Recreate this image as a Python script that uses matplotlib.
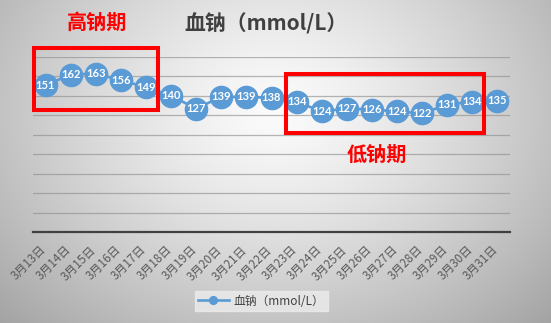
import numpy as np
import matplotlib.pyplot as plt
from matplotlib.patches import Rectangle

plt.rcParams['font.family'] = ['Noto Sans CJK SC', 'DejaVu Sans']

# 血钠 daily values, 3月13日 - 3月31日
days = [f"3月{d}日" for d in range(13, 32)]
sodium = [151, 162, 163, 156, 149, 140, 127, 139, 139, 138,
          134, 124, 127, 126, 124, 122, 131, 134, 135]

blue = '#5B9BD5'

fig = plt.figure(figsize=(5.51, 3.23), dpi=100)

# radial grey background
bg = fig.add_axes([0, 0, 1, 1], zorder=-10)
yy, xx = np.mgrid[0:323, 0:551]
r = np.sqrt(((xx - 275) / 320.0) ** 2 + ((yy - 110) / 250.0) ** 2)
shade = np.clip(0.985 - 0.27 * r ** 1.3, 0, 1)
bg.imshow(np.dstack([shade] * 3), aspect='auto', extent=[0, 1, 0, 1])
bg.axis('off')

ax = fig.add_axes([0.0599, 0.2817, 0.8657, 0.5418])
ax.patch.set_alpha(0)
x = np.arange(len(sodium))
ax.plot(x, sodium, color=blue, lw=1.9, marker='o', ms=16,
        mec=blue, mfc=blue, clip_on=False, zorder=3)
for xi, v in zip(x, sodium):
    ax.text(xi, v, str(v), color='white', fontsize=8, fontweight='bold',
            family=['Lato', 'DejaVu Sans'], ha='center', va='center', zorder=4)

ax.set_xlim(-0.5, len(sodium) - 0.5)
ax.set_ylim(0, 180)
ax.set_yticks(np.arange(20, 181, 20))
ax.yaxis.grid(True, color='#8f8f8f', lw=0.9, alpha=0.65)
ax.tick_params(axis='y', left=False, labelleft=False)
ax.set_xticks(x + 0.12)
ax.set_xticklabels(days, rotation=45, ha='right', va='top', fontsize=8.5,
                   color='#595959')
ax.tick_params(axis='x', length=0, pad=8)
for s in ['top', 'right', 'left']:
    ax.spines[s].set_visible(False)
ax.spines['bottom'].set_color('#404040')
ax.spines['bottom'].set_linewidth(1.6)

# high / low periods
ax.add_patch(Rectangle((-0.48, 125), 4.94, 64, fill=False, ec='red',
                       lw=2.9, clip_on=False, zorder=5))
ax.add_patch(Rectangle((9.56, 102), 7.9, 61, fill=False, ec='red',
                       lw=2.9, clip_on=False, zorder=5))

fig.text(0.482, 0.926, '血钠（mmol/L）', ha='center', va='center',
         fontsize=15, fontweight='bold', color='#404040')
fig.text(0.177, 0.93, '高钠期', ha='center', va='center',
         fontsize=14.5, fontweight='bold', color='red')
fig.text(0.684, 0.523, '低钠期', ha='center', va='center',
         fontsize=14.5, fontweight='bold', color='red')

leg = fig.legend(ax.lines, ['血钠（mmol/L）'], loc='center',
                 bbox_to_anchor=(0.474, 0.068), fontsize=8.5,
                 frameon=True, fancybox=False, handlelength=2.6,
                 markerscale=0.35, borderpad=0.3, handletextpad=0.4)
leg.get_frame().set_facecolor('#ececec')
leg.get_frame().set_edgecolor('#ececec')
for t in leg.get_texts():
    t.set_color('#404040')

fig.savefig('out.png', dpi=100)
